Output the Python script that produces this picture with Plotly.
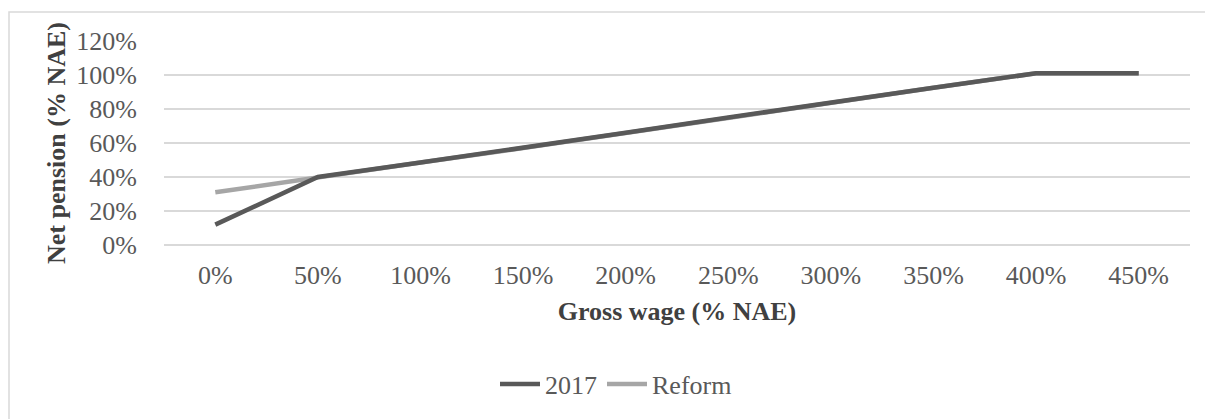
import plotly.graph_objects as go

categories = ["0%", "50%", "100%", "150%", "200%", "250%", "300%", "350%", "400%", "450%"]
series_2017 = [12, 40, 48.5, 57, 66, 75, 84, 92.5, 101, 101]
series_reform = [31, 40, 48.5, 57, 66, 75, 84, 92.5, 101, 101]
y_ticks = [0, 20, 40, 60, 80, 100, 120]
y_tick_labels = ["0%", "20%", "40%", "60%", "80%", "100%", "120%"]

FONT = "Liberation Serif, Times New Roman, serif"
OFF = 8  # page body margin
W, H = 1213 - OFF, 419 - OFF
L, T = 164 - OFF, 41 - OFF
R = W - (1190 - OFF)
B = H - (245 - OFF)
pw = W - L - R
ph = H - T - B

def px_x(p):
    return (p - OFF - L) / pw

def px_y(p):
    return (H - B - (p - OFF)) / ph

fig = go.Figure()
fig.add_trace(go.Scatter(x=categories, y=series_reform, mode="lines", name="Reform",
                         line=dict(color="#a6a6a6", width=4.5), legendrank=2))
fig.add_trace(go.Scatter(x=categories, y=series_2017, mode="lines", name="2017",
                         line=dict(color="#595959", width=4.5), legendrank=1))

fig.update_layout(
    width=W, height=H,
    margin=dict(l=L, r=R, t=T, b=B, autoexpand=False),
    paper_bgcolor="white", plot_bgcolor="white",
    font=dict(family=FONT, size=26, color="#595959"),
    showlegend=True,
    legend=dict(orientation="h", x=px_x(616), xanchor="center", y=px_y(384), yanchor="middle",
                font=dict(family=FONT, size=26, color="#595959"), itemwidth=40,
                bgcolor="rgba(0,0,0,0)"),
    xaxis=dict(type="category", range=[-0.5, len(categories) - 0.5], automargin=False,
               showgrid=False, zeroline=False, showline=False,
               tickfont=dict(family=FONT, size=26, color="#595959"), ticks="",
               ticklabelstandoff=12,
               title=dict(text="<b>Gross wage (% NAE)</b>", standoff=12,
                          font=dict(family=FONT, size=26, color="#404040"))),
    yaxis=dict(range=[0, 120], tickvals=y_ticks, ticktext=y_tick_labels, automargin=False,
               showgrid=True, gridcolor="#d9d9d9", gridwidth=1.5,
               zeroline=True, zerolinecolor="#d9d9d9", zerolinewidth=1.5, showline=False,
               tickfont=dict(family=FONT, size=26, color="#595959"), ticks="",
               ticklabelstandoff=26,
               title=dict(text="<b>Net pension (% NAE)</b>", standoff=3,
                          font=dict(family=FONT, size=26, color="#404040"))),
    shapes=[dict(type="rect", xref="paper", yref="paper",
                 x0=px_x(9), x1=px_x(1240), y0=px_y(12), y1=px_y(450),
                 line=dict(color="#d9d9d9", width=1.5), fillcolor="rgba(0,0,0,0)", layer="below")],
)

fig.write_html("out.html")
